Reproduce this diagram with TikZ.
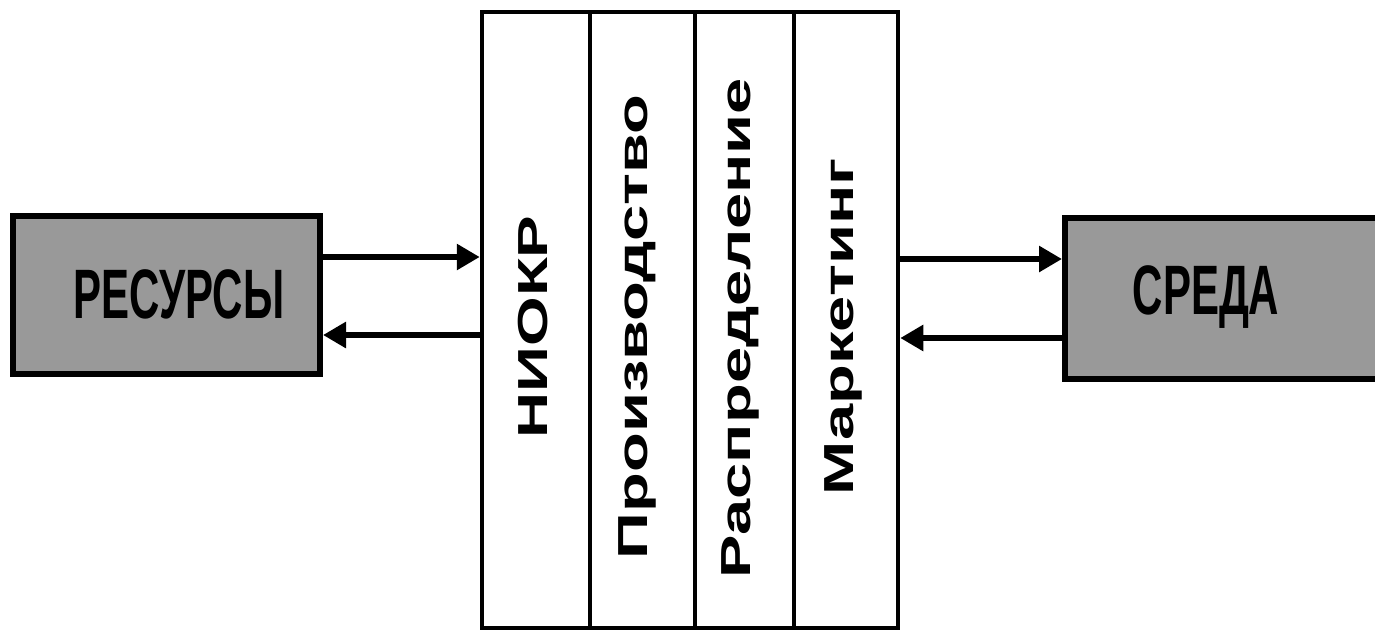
\documentclass[tikz,border=0pt]{standalone}
\usepackage{fontspec}
\setmainfont{Liberation Sans}
\usetikzlibrary{arrows.meta,calc}
\tikzset{
  shadebox/.style={draw=black, line width=6pt, fill=black!40, inner sep=0pt},
  colbox/.style={draw=black, line width=4.5pt, inner sep=0pt, minimum height=616pt},
  coltext/.style={rotate=90, anchor=base, inner sep=0pt,
    font=\fontsize{42}{42}\selectfont\bfseries},
  boxtext/.style={inner sep=0pt, anchor=base,
    font=\fontsize{70}{70}\selectfont\bfseries},
  flow/.style={line width=6.5pt, -{Triangle[length=23pt,width=25pt]}},
}
\begin{document}
\begin{tikzpicture}[x=1pt,y=-1pt]
\useasboundingbox (0,0) rectangle (1375,638);
% side blocks (the right one runs off the page edge)
\node[shadebox, minimum width=307pt, minimum height=158pt] (res) at (166.5,295) {};
\node[shadebox, minimum width=345pt, minimum height=161pt] (env) at (1237.5,298.5) {};
\node[boxtext] (restxt) at (179,318) {\scalebox{0.6}[1]{РЕСУРСЫ}};
\node[boxtext] (envtxt) at (1206,314) {\scalebox{0.6}[1]{СРЕДА}};
% central block of four columns
\node[colbox, minimum width=108pt] (c1) at (536,320) {};
\node[colbox, minimum width=105pt] (c2) at (642.5,320) {};
\node[colbox, minimum width=99pt]  (c3) at (744.5,320) {};
\node[colbox, minimum width=104pt] (c4) at (846,320) {};
\node[coltext] (t1) at (547,327) {\scalebox{1.52}[1]{НИОКР}};
\node[coltext] (t2) at (647,327) {\scalebox{1.55}[1]{Производство}};
\node[coltext] (t3) at (750,328) {\scalebox{1.55}[1]{Распределение}};
\node[coltext] (t4) at (853,327) {\scalebox{1.55}[1]{Маркетинг}};
% flows
\draw[flow] (res.east |- 0,257) -- (c1.west |- 0,257);
\draw[flow] (c1.west |- 0,335) -- (res.east |- 0,335);
\draw[flow] (c4.east |- 0,259) -- (env.west |- 0,259);
\draw[flow] (env.west |- 0,338) -- (c4.east |- 0,338);
\end{tikzpicture}
\end{document}
